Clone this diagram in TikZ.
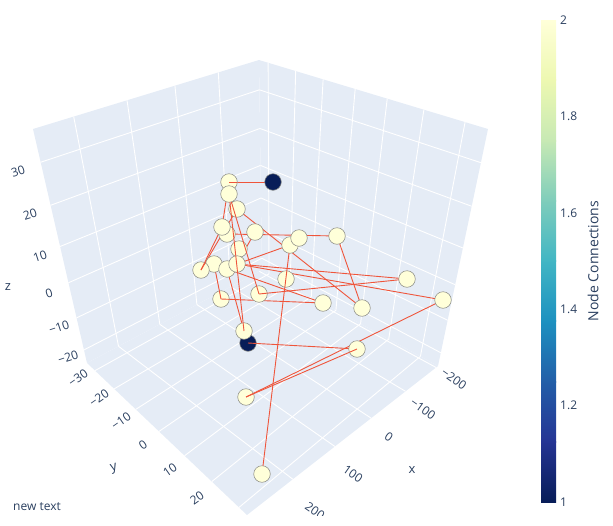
\documentclass[tikz,border=0pt]{standalone}
\usepackage{fontspec}
\setmainfont{Open Sans}
\usetikzlibrary{calc}
\definecolor{pane}{HTML}{E5ECF6}
\definecolor{txt}{HTML}{2A3F5F}
\definecolor{edgec}{HTML}{EF553B}
\definecolor{lightn}{HTML}{FFFFD9}
\definecolor{darkn}{HTML}{081D58}
\definecolor{nodeline}{HTML}{8A8A84}
\definecolor{cs0}{HTML}{081D58}
\definecolor{cs1}{HTML}{253494}
\definecolor{cs2}{HTML}{225EA8}
\definecolor{cs3}{HTML}{1D91C0}
\definecolor{cs4}{HTML}{41B6C4}
\definecolor{cs5}{HTML}{7FCDBB}
\definecolor{cs6}{HTML}{C7E9B4}
\definecolor{cs7}{HTML}{EDF8B1}
\definecolor{cs8}{HTML}{FFFFD9}
\pgfdeclarelayer{bg}
\pgfdeclarelayer{edgel}
\pgfdeclarelayer{fg}
\pgfsetlayers{bg,edgel,main,fg}
\newcommand\capat[2]{\draw[edge] (#1.center) -- ($(#1.center)!8.3pt!(#2.center)$);}
\begin{document}
\begin{tikzpicture}[x=1pt,y=-1pt,
  grid/.style={draw=white, line width=0.9pt},
  edge/.style={draw=edgec, line width=0.9pt},
  ln/.style={circle, draw=nodeline, fill=lightn, minimum size=16.6pt, inner sep=0pt, line width=0.5pt},
  dn/.style={ln, fill=darkn},
  tick/.style={text=txt, inner sep=0pt, font=\fontsize{12}{14}\selectfont},
  atitle/.style={text=txt, inner sep=0pt, font=\fontsize{13}{15}\selectfont}]
\useasboundingbox (0,0) rectangle (613,525);
\coordinate (LT) at (33,129);
\coordinate (BT) at (259,60);
\coordinate (RT) at (488,129);
\coordinate (L) at (87,363);
\coordinate (B) at (262,270);
\coordinate (R) at (438,366);
\coordinate (F) at (247,515);
\begin{pgfonlayer}{bg}
\fill[pane] (LT)--(BT)--(B)--(L)--cycle;
\fill[pane] (BT)--(RT)--(R)--(B)--cycle;
\fill[pane] (L)--(B)--(R)--(F)--cycle;
% left wall
\foreach \t in {0.18,0.416,0.628,0.82}
  \draw[grid] ($(LT)!\t!(BT)$) -- ($(L)!\t!(B)$);
\foreach \t in {0.142,0.326,0.502,0.657,0.807,0.944}
  \draw[grid] ($(LT)!\t!(L)$) -- ($(BT)!\t!(B)$);
% right wall
\foreach \t in {0.04,0.16,0.28,0.42,0.56,0.72,0.9}
  \draw[grid] ($(BT)!\t!(RT)$) -- ($(B)!\t!(R)$);
\foreach \t in {0.142,0.326,0.502,0.657,0.807,0.944}
  \draw[grid] ($(BT)!\t!(B)$) -- ($(RT)!\t!(R)$);
% floor
\foreach \a/\b in {0.18/0.24,0.416/0.46,0.628/0.65,0.82/0.83,0.985/0.99}
  \draw[grid] ($(L)!\a!(B)$) -- ($(F)!\b!(R)$);
\foreach \a/\b in {0.05/0.04,0.17/0.16,0.305/0.28,0.45/0.42,0.61/0.56,0.78/0.72,0.95/0.9}
  \draw[grid] ($(L)!\a!(F)$) -- ($(B)!\b!(R)$);
\end{pgfonlayer}

% nodes (back to front)
\node[dn] (n2) at (273,182) {};
\node[ln] (n1) at (229,182) {};
\node[ln] (n4) at (237,209) {};
\node[ln] (n3) at (229,194) {};
\node[ln] (n6) at (227,234) {};
\node[ln] (n5) at (222,227) {};
\node[ln] (n7) at (255,232) {};
\node[ln] (n8) at (239,249) {};
\node[ln] (n10) at (214,264) {};
\node[ln] (n9) at (201,270) {};
\node[ln] (n11) at (227,269) {};
\node[ln] (n12) at (237,264) {};
\node[ln] (n13) at (290,245) {};
\node[ln] (n14) at (299,238) {};
\node[ln] (n15) at (286,279) {};
\node[ln] (n16) at (337,236) {};
\node[ln] (n17) at (407,279) {};
\node[ln] (n18) at (443,300) {};
\node[ln] (n19) at (362,308) {};
\node[ln] (n20) at (323,303) {};
\node[ln] (n21) at (259,294) {};
\node[ln] (n22) at (221,299) {};
\node[dn] (n24) at (248,343) {};
\node[ln] (n23) at (244,331) {};
\node[ln] (n25) at (357,349) {};
\node[ln] (n26) at (246,397) {};
\node[ln] (n27) at (262,474) {};

\begin{pgfonlayer}{edgel}
\draw[edge] (n2.center) -- (n1.center);
\draw[edge] (n1.center) -- (n5.center);
\draw[edge] (n4.center) -- (n19.center);
\draw[edge] (n4.center) -- (n9.center);
\draw[edge] (n5.center) -- (n9.center);
\draw[edge] (n6.center) -- (n16.center);
\draw[edge] (n16.center) -- (n19.center);
\draw[edge] (n7.center) -- (n12.center);
\draw[edge] (n12.center) -- (n17.center);
\draw[edge] (n12.center) -- (n18.center);
\draw[edge] (n11.center) -- (n20.center);
\draw[edge] (n10.center) -- (n22.center);
\draw[edge] (n22.center) -- (n20.center);
\draw[edge] (n21.center) -- (n17.center);
\draw[edge] (n12.center) -- (n13.center);
\draw[edge] (n11.center) -- (n23.center);
\draw[edge] (n24.center) -- (n25.center);
\draw[edge] (n25.center) -- (n26.center);
\draw[edge] (n26.center) -- (n18.center);
\end{pgfonlayer}

\begin{pgfonlayer}{fg}
\draw[edge, shorten <=8.3pt] (n3.center) -- (n23.center);
\draw[edge, shorten <=8.3pt] (n3.center) -- (n21.center);
\draw[edge, shorten <=8.3pt, shorten >=8.3pt] (n13.center) -- (n27.center);
\capat{n1}{n2}
\capat{n24}{n25}
\capat{n26}{n25}
\capat{n26}{n18}
\capat{n25}{n26}
\capat{n21}{n17}
\capat{n22}{n20}
\capat{n22}{n10}
\capat{n9}{n4}
\capat{n9}{n5}
\end{pgfonlayer}

% z ticks
\node[tick, rotate=18] (z30) at (18,171) {30};
\node[tick, rotate=18] (z20) at (30,214) {20};
\node[tick, rotate=18] (z10) at (40,256) {10};
\node[tick, rotate=18] (z0) at (49,293) {0};
\node[tick, rotate=18] (zm10) at (59,327) {−10};
\node[tick, rotate=18] (zm20) at (68,357) {−20};
% y ticks
\node[tick, rotate=35] (ym30) at (78,378) {−30};
\node[tick, rotate=35] (ym20) at (99,398) {−20};
\node[tick, rotate=35] (ym10) at (121,421) {−10};
\node[tick, rotate=35] (y0) at (143,445) {0};
\node[tick, rotate=35] (y10) at (170,470) {10};
\node[tick, rotate=35] (y20) at (197,498) {20};
% x ticks
\node[tick, rotate=-35] (xm200) at (454,379) {−200};
\node[tick, rotate=-35] (xm100) at (423,409) {−100};
\node[tick, rotate=-35] (x0) at (389,437) {0};
\node[tick, rotate=-35] (x100) at (353,474) {100};
\begin{scope}
\clip (0,0) rectangle (613,515);
\node[tick, rotate=-35] (x200) at (315,511) {200};
\end{scope}
% axis titles
\node[atitle] (zt) at (8,287) {z};
\node[atitle, rotate=15] (yt) at (114,469) {y};
\node[atitle] (xt) at (412,470) {x};
\node[tick] (nt) at (37,507) {new text};

% colorbar
\shade[bottom color=cs0, top color=cs1] (541,502) rectangle (556,441.25);
\shade[bottom color=cs1, top color=cs2] (541,442.25) rectangle (556,381);
\shade[bottom color=cs2, top color=cs3] (541,382) rectangle (556,320.75);
\shade[bottom color=cs3, top color=cs4] (541,321.75) rectangle (556,260.5);
\shade[bottom color=cs4, top color=cs5] (541,261.5) rectangle (556,200.25);
\shade[bottom color=cs5, top color=cs6] (541,201.25) rectangle (556,140);
\shade[bottom color=cs6, top color=cs7] (541,141) rectangle (556,79.75);
\shade[bottom color=cs7, top color=cs8] (541,80.75) rectangle (556,20);
\node[tick, anchor=west] (c2) at (560,20) {2};
\node[tick, anchor=west] (c18) at (560,116.4) {1.8};
\node[tick, anchor=west] (c16) at (560,212.8) {1.6};
\node[tick, anchor=west] (c14) at (560,309.2) {1.4};
\node[tick, anchor=west] (c12) at (560,405.6) {1.2};
\node[tick, anchor=west] (c1) at (560,502) {1};
\node[text=txt, inner sep=0pt, font=\fontsize{14}{16}\selectfont, rotate=90] (ctitle) at (593,261) {Node Connections};
\end{tikzpicture}
\end{document}
